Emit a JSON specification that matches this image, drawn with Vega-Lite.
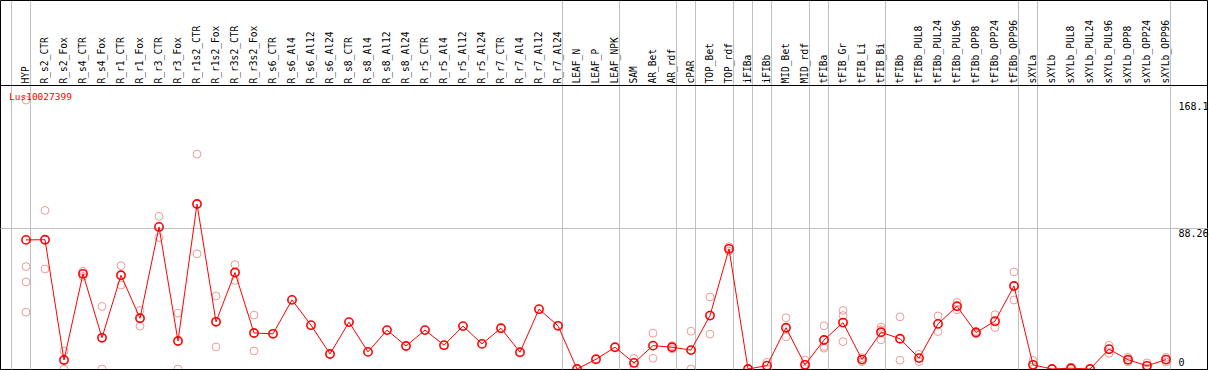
{
  "$schema": "https://vega.github.io/schema/vega-lite/v6.json",
  "width": 1207,
  "height": 284,
  "autosize": {"type": "none"},
  "padding": {"left": 0, "top": 85, "right": 2, "bottom": 1},
  "background": "white",
  "view": {"stroke": "black", "strokeWidth": 1},
  "title": {
    "text": "Lus10027399",
    "color": "red",
    "font": "DejaVu Sans Mono",
    "fontSize": 9.5,
    "fontWeight": "normal",
    "anchor": "start",
    "orient": "top",
    "frame": "group",
    "baseline": "top",
    "offset": -102,
    "dx": 9
  },
  "datasets": {
    "means": [
      {"k": 1, "v": 80.7}, {"k": 2, "v": 80.8}, {"k": 3, "v": 5.6}, {"k": 4, "v": 59.5},
      {"k": 5, "v": 19.5}, {"k": 6, "v": 58.6}, {"k": 7, "v": 31.7}, {"k": 8, "v": 88.8},
      {"k": 9, "v": 17.5}, {"k": 10, "v": 103.1}, {"k": 11, "v": 29.5}, {"k": 12, "v": 60.3},
      {"k": 13, "v": 22.5}, {"k": 14, "v": 22.0}, {"k": 15, "v": 43.2}, {"k": 16, "v": 27.4},
      {"k": 17, "v": 9.4}, {"k": 18, "v": 29.3}, {"k": 19, "v": 10.7}, {"k": 20, "v": 24.3},
      {"k": 21, "v": 14.4}, {"k": 22, "v": 24.3}, {"k": 23, "v": 14.9}, {"k": 24, "v": 26.8},
      {"k": 25, "v": 15.7}, {"k": 26, "v": 25.5}, {"k": 27, "v": 10.5}, {"k": 28, "v": 37.4},
      {"k": 29, "v": 27.0}, {"k": 30, "v": 0}, {"k": 31, "v": 6.1}, {"k": 32, "v": 13.6},
      {"k": 33, "v": 3.8}, {"k": 34, "v": 14.6}, {"k": 35, "v": 13.6}, {"k": 36, "v": 11.8},
      {"k": 37, "v": 33.4}, {"k": 38, "v": 75.1}, {"k": 39, "v": 0}, {"k": 40, "v": 2.1},
      {"k": 41, "v": 25.8}, {"k": 42, "v": 2.6}, {"k": 43, "v": 18.1}, {"k": 44, "v": 29.0},
      {"k": 45, "v": 5.9}, {"k": 46, "v": 23.0}, {"k": 47, "v": 18.9}, {"k": 48, "v": 6.8},
      {"k": 49, "v": 28.2}, {"k": 50, "v": 39.2}, {"k": 51, "v": 22.8}, {"k": 52, "v": 29.9},
      {"k": 53, "v": 51.9}, {"k": 54, "v": 2.6}, {"k": 55, "v": 0}, {"k": 56, "v": 0.5},
      {"k": 57, "v": 0}, {"k": 58, "v": 12.4}, {"k": 59, "v": 5.8}, {"k": 60, "v": 2.0},
      {"k": 61, "v": 5.9}
    ],
    "reps": [
      {"k": 1, "v": 168.1}, {"k": 1, "v": 64.0}, {"k": 1, "v": 54.4}, {"k": 1, "v": 35.5},
      {"k": 2, "v": 99.1}, {"k": 2, "v": 62.5},
      {"k": 3, "v": 11.3}, {"k": 3, "v": 0},
      {"k": 4, "v": 61.1}, {"k": 4, "v": 57.9},
      {"k": 5, "v": 39.1}, {"k": 5, "v": 0},
      {"k": 6, "v": 64.6}, {"k": 6, "v": 52.5},
      {"k": 7, "v": 36.6}, {"k": 7, "v": 26.8},
      {"k": 8, "v": 95.4}, {"k": 8, "v": 82.2},
      {"k": 9, "v": 34.9}, {"k": 9, "v": 0},
      {"k": 10, "v": 134.3}, {"k": 10, "v": 72.0},
      {"k": 11, "v": 45.6}, {"k": 11, "v": 13.8},
      {"k": 12, "v": 65.2}, {"k": 12, "v": 55.4},
      {"k": 13, "v": 33.7}, {"k": 13, "v": 11.3},
      {"k": 33, "v": 6.6}, {"k": 33, "v": 1.0},
      {"k": 34, "v": 22.4}, {"k": 34, "v": 6.7},
      {"k": 35, "v": 14.6}, {"k": 35, "v": 12.5},
      {"k": 36, "v": 23.6}, {"k": 36, "v": 0},
      {"k": 37, "v": 45.0}, {"k": 37, "v": 21.8},
      {"k": 38, "v": 76.5}, {"k": 38, "v": 73.7},
      {"k": 40, "v": 4.2}, {"k": 40, "v": 0},
      {"k": 41, "v": 32.0}, {"k": 41, "v": 20.1},
      {"k": 42, "v": 5.6}, {"k": 42, "v": 0},
      {"k": 43, "v": 27.0}, {"k": 43, "v": 14.0}, {"k": 43, "v": 13.0},
      {"k": 44, "v": 36.6}, {"k": 44, "v": 33.4}, {"k": 44, "v": 17.1},
      {"k": 45, "v": 7.1}, {"k": 45, "v": 4.6},
      {"k": 46, "v": 26.2}, {"k": 46, "v": 24.5}, {"k": 46, "v": 18.2},
      {"k": 47, "v": 32.6}, {"k": 47, "v": 5.5},
      {"k": 48, "v": 9.2}, {"k": 48, "v": 4.6},
      {"k": 49, "v": 33.2}, {"k": 49, "v": 23.4},
      {"k": 50, "v": 41.6}, {"k": 50, "v": 37.0},
      {"k": 51, "v": 23.5}, {"k": 51, "v": 22.1},
      {"k": 52, "v": 33.9}, {"k": 52, "v": 25.9},
      {"k": 53, "v": 60.7}, {"k": 53, "v": 43.1},
      {"k": 54, "v": 5.4}, {"k": 54, "v": 0},
      {"k": 56, "v": 1.0}, {"k": 56, "v": 0},
      {"k": 58, "v": 14.8}, {"k": 58, "v": 9.8},
      {"k": 59, "v": 7.3}, {"k": 59, "v": 4.4},
      {"k": 60, "v": 3.8}, {"k": 60, "v": 0.4},
      {"k": 61, "v": 7.3}, {"k": 61, "v": 4.4}
    ]
  },
  "layer": [
    {
      "data": {"name": "reps"},
      "mark": {"type": "point", "shape": "circle", "filled": false, "color": "#ee9a9a", "size": 62, "strokeWidth": 1, "opacity": 1, "clip": true},
      "encoding": {
        "x": {
          "field": "k", "type": "quantitative",
          "scale": {"domain": [-0.3684, 63.1579], "nice": false, "zero": false},
          "axis": {
            "orient": "top", "offset": 85, "title": null,
            "values": [-0.3684, 0.2368, 1.2368, 29.2368, 32.2368, 35.2368, 36.2368, 38.2368, 39.2368, 40.2368, 42.2368, 43.2368, 46.2368, 53.2368, 54.2368, 61.2368, 63.1579],
            "labels": false, "domain": true, "domainColor": "black", "domainWidth": 1,
            "ticks": true, "tickSize": -85, "tickWidth": 1,
            "tickColor": {"condition": {"test": "datum.value < 0 || datum.value > 63", "value": "black"}, "value": "#c0c0c0"},
            "grid": true, "gridWidth": 1,
            "gridColor": {"condition": {"test": "datum.value < 0 || datum.value > 63", "value": "black"}, "value": "#c0c0c0"}
          }
        },
        "y": {
          "field": "v", "type": "quantitative",
          "scale": {"domain": [0, 177.5], "nice": false, "zero": false},
          "axis": {
            "orient": "right", "title": null, "values": [0, 88.26, 168.1],
            "labelExpr": "'' + datum.value",
            "domain": false, "ticks": false, "tickSize": 0,
            "labelAlign": "left", "labelPadding": -29,
            "labelFont": "DejaVu Sans Mono", "labelFontSize": 10, "labelColor": "black",
            "labelBaseline": {"condition": {"test": "datum.value == 0", "value": "bottom"}, "value": "top"},
            "labelOffset": {"condition": {"test": "datum.value == 0", "value": -2}, "value": 1},
            "grid": true, "gridWidth": 1,
            "gridColor": {"condition": {"test": "datum.value > 80 && datum.value < 90", "value": "#c0c0c0"}, "value": "transparent"}
          }
        }
      }
    },
    {
      "data": {"name": "means"},
      "mark": {"type": "line", "color": "red", "strokeWidth": 1, "clip": true},
      "encoding": {
        "x": {
          "field": "k", "type": "quantitative",
          "axis": {
            "orient": "top", "offset": 0, "title": null,
            "values": [1,2,3,4,5,6,7,8,9,10,11,12,13,14,15,16,17,18,19,20,21,22,23,24,25,26,27,28,29,30,31,32,33,34,35,36,37,38,39,40,41,42,43,44,45,46,47,48,49,50,51,52,53,54,55,56,57,58,59,60,61],
            "labelExpr": "['HYP','R_s2_CTR','R_s2_Fox','R_s4_CTR','R_s4_Fox','R_r1_CTR','R_r1_Fox','R_r3_CTR','R_r3_Fox','R_r1s2_CTR','R_r1s2_Fox','R_r3s2_CTR','R_r3s2_Fox','R_s6_CTR','R_s6_Al4','R_s6_Al12','R_s6_Al24','R_s8_CTR','R_s8_Al4','R_s8_Al12','R_s8_Al24','R_r5_CTR','R_r5_Al4','R_r5_Al12','R_r5_Al24','R_r7_CTR','R_r7_Al4','R_r7_Al12','R_r7_Al24','LEAF_N','LEAF_P','LEAF_NPK','SAM','AR_Bet','AR_rdf','cPAR','TOP_Bet','TOP_rdf','iFIBa','iFIBb','MID_Bet','MID_rdf','tFIBa','tFIB_Gr','tFIB_Li','tFIB_Bi','tFIBb','tFIBb_PUL8','tFIBb_PUL24','tFIBb_PUL96','tFIBb_OPP8','tFIBb_OPP24','tFIBb_OPP96','sXYLa','sXYLb','sXYLb_PUL8','sXYLb_PUL24','sXYLb_PUL96','sXYLb_OPP8','sXYLb_OPP24','sXYLb_OPP96'][datum.value - 1]",
            "labelAngle": 270, "labelAlign": "left", "labelBaseline": "middle",
            "labelFont": "DejaVu Sans Mono", "labelFontSize": 9.6, "labelColor": "black",
            "labelPadding": 2, "labelOverlap": false, "labelFlush": false, "labelBound": false,
            "domain": true, "domainColor": "black", "domainWidth": 1,
            "ticks": false, "tickSize": 0, "grid": false
          }
        },
        "y": {"field": "v", "type": "quantitative"}
      }
    },
    {
      "data": {"name": "means"},
      "mark": {"type": "point", "shape": "circle", "filled": false, "color": "red", "size": 68, "strokeWidth": 1.6, "opacity": 1, "clip": true},
      "encoding": {
        "x": {"field": "k", "type": "quantitative", "axis": null},
        "y": {"field": "v", "type": "quantitative"}
      }
    }
  ],
  "resolve": {"axis": {"x": "independent"}}
}
